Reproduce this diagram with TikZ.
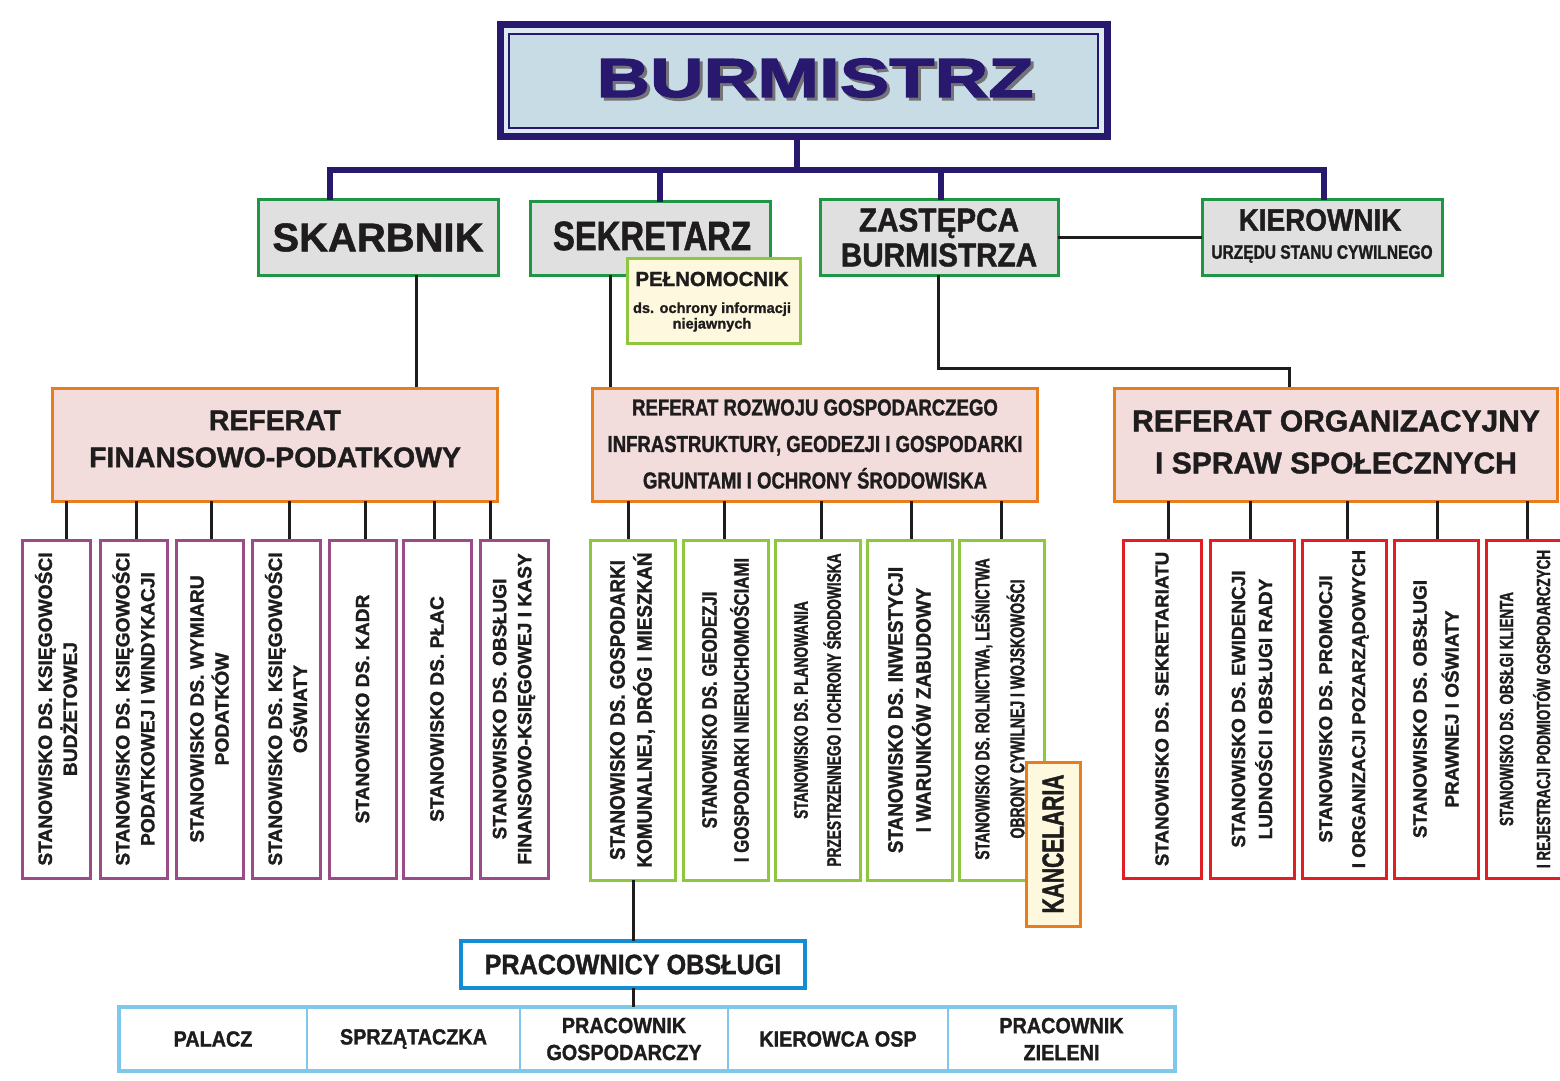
\documentclass[tikz,border=0pt]{standalone}
\usepackage{fontspec}
\setmainfont{Liberation Sans}[BoldFeatures={FakeBold=1.3}]
\newfontfamily\fsA{Liberation Sans}[FakeStretch=0.9, BoldFeatures={FakeBold=1.3}]
\newfontfamily\fsB{Liberation Sans}[FakeStretch=0.8, BoldFeatures={FakeBold=1.3}]
\newfontfamily\fsC{Liberation Sans}[FakeStretch=0.7, BoldFeatures={FakeBold=1.3}]
\newfontfamily\fsW{Liberation Sans}[FakeStretch=1.35, BoldFeatures={FakeBold=2.2}]
\usetikzlibrary{calc}
\newcommand\fz[2]{\fontsize{#1}{#2}\selectfont}
\newcommand\bx[7]{\node[#1, minimum width={(#5-#3)*0.5pt}, minimum height={(#6-#4)*0.5pt}] (#2) at ({(#3+#5)/2},{(#4+#6)/2}) {#7};}
\definecolor{ink}{RGB}{30,28,29}
\definecolor{navy}{RGB}{40,24,110}
\definecolor{burfill}{RGB}{200,220,230}
\definecolor{burlight}{RGB}{222,234,242}
\definecolor{dkgreen}{RGB}{30,150,70}
\definecolor{boxgrey}{RGB}{224,224,224}
\definecolor{ltgreen}{RGB}{141,198,63}
\definecolor{cream}{RGB}{253,248,222}
\definecolor{orange1}{RGB}{232,125,30}
\definecolor{pink1}{RGB}{242,221,220}
\definecolor{purple1}{RGB}{155,75,135}
\definecolor{red1}{RGB}{225,30,35}
\definecolor{blue1}{RGB}{20,140,210}
\definecolor{ltblue}{RGB}{125,200,235}
\definecolor{shade}{RGB}{115,115,120}
\tikzset{
  box/.style={rectangle, inner sep=0pt, outer sep=0pt, line width=1.5pt, text=ink, font=\bfseries},
  topbox/.style={box, draw=dkgreen, fill=boxgrey},
  refbox/.style={box, draw=orange1, fill=pink1, align=center},
  pbox/.style={box, draw=purple1, fill=white},
  gbox/.style={box, draw=ltgreen, fill=white},
  rbox/.style={box, draw=red1, fill=white},
  kbox/.style={box, draw=orange1, fill=cream},
  pelbox/.style={box, draw=ltgreen, fill=cream},
  obsbox/.style={box, draw=blue1, fill=white, line width=1.8pt},
  cellbox/.style={box, draw=ltblue, line width=0.8pt, fill=white, align=center, font={\fsA\bfseries\fz{11}{13.5}}},
  tabframe/.style={box, draw=ltblue, line width=2.2pt},
  burbox/.style={box, draw=navy, line width=3.5pt, fill=burlight},
  txt/.style={inner sep=0pt, outer sep=0pt, text=ink, align=center},
  vtext/.style={txt, rotate=90},
  conn/.style={line width=1.5pt, draw=ink},
  navyconn/.style={line width=3pt, draw=navy, line join=miter},
}
\begin{document}
\begin{tikzpicture}[x=0.5pt, y=-0.5pt]
\useasboundingbox[fill=white] (0,0) rectangle (1560,1081);

% ---------- BURMISTRZ ----------
\bx{burbox}{bur}{500}{25}{1107}{137}{}
\draw[navy, line width=0.8pt, fill=burfill] ($(bur.north west)+(9,9)$) rectangle ($(bur.south east)+(-9,-9)$);
\node[txt, text=shade, font={\fsW\bfseries\fz{27.5}{30}}] (bursh) at (818,81) {BURMISTRZ};
\node[txt, text=navy, font={\fsW\bfseries\fz{27.5}{30}}] (burt) at (815,78) {BURMISTRZ};

% ---------- top row ----------
\bx{topbox}{skar}{258}{200}{498}{275}{}
\node[txt, font={\bfseries\fz{20}{24}}] (skart) at (skar) {SKARBNIK};
\bx{topbox}{sek}{530}{202}{770}{275}{}
\node[txt, font={\fsB\bfseries\fz{20.5}{24}}] (sekt) at (652,236) {SEKRETARZ};
\bx{topbox}{zas}{820}{200}{1058}{275}{}
\node[txt, font={\fsA\bfseries\fz{16.5}{17.5}}] (zast) at (zas) {ZASTĘPCA\\BURMISTRZA};
\bx{topbox}{kier}{1202}{200}{1442}{275}{}
\node[txt, font={\fsA\bfseries\fz{15.5}{18}}] (kiert1) at (1320,220) {KIEROWNIK};
\node[txt, font={\fsB\bfseries\fz{9.7}{12}}] (kiert2) at (1322,254) {URZĘDU STANU CYWILNEGO};

% navy tree
\draw[navyconn] (bur.south -| 797,0) -- (797,170);
\draw[navyconn] (skar.north -| 330,0) -- (330,170) -- (1324,170) -- (kier.north -| 1324,0);
\draw[navyconn] (sek.north -| 660,0) -- (660,170);
\draw[navyconn] (zas.north -| 941,0) -- (941,170);

% ---------- black connectors ----------
\draw[conn] (skar.south -| 416,0) -- (416,388) coordinate (finin);
\draw[conn] (sek.south -| 610,0) -- (610,388) coordinate (rozin);
\draw[conn] (zas.south -| 938,0) -- (938,368) -- (1289,368) -- (1289,388) coordinate (orgin);
\draw[conn] (zas.east) -- (kier.west);

% PELNOMOCNIK
\bx{pelbox}{pel}{627}{259}{800}{343}{}
\node[txt, font={\bfseries\fz{10.2}{12}}] (pelt1) at (712,279) {PEŁNOMOCNIK};
\node[txt, font={\bfseries\fz{7.3}{7.8}}] (pelt2) at (712,317) {ds. ochrony informacji\\niejawnych};

% ---------- referaty ----------
\bx{refbox}{fin}{52}{388}{497}{501}{}
\node[txt, font={\bfseries\fz{14.2}{18.5}}] (fint) at (275,439) {REFERAT\\FINANSOWO-PODATKOWY};
\bx{refbox}{roz}{592}{388}{1037}{501}{}
\node[txt, font={\fsB\bfseries\fz{11.6}{18.25}}] (rozt) at (815,444) {REFERAT ROZWOJU GOSPODARCZEGO\\INFRASTRUKTURY, GEODEZJI I GOSPODARKI\\GRUNTAMI I OCHRONY ŚRODOWISKA};
\bx{refbox}{org}{1114}{388}{1557}{501}{}
\node[txt, font={\bfseries\fz{15}{21}}] (orgt) at (1336,442) {REFERAT ORGANIZACYJNY\\I SPRAW SPOŁECZNYCH};

% ---------- purple column ----------
\foreach \x in {66,136,211,289,365,434,490} \draw[conn] (fin.south -| \x,0) -- (\x,540);
\bx{pbox}{p1}{22}{540}{90}{878}{}
\bx{pbox}{p2}{100}{540}{167}{878}{}
\bx{pbox}{p3}{176}{540}{243}{878}{}
\bx{pbox}{p4}{252}{540}{320}{878}{}
\bx{pbox}{p5}{329}{540}{396}{878}{}
\bx{pbox}{p6}{403}{540}{471}{878}{}
\bx{pbox}{p7}{480}{540}{548}{878}{}
\tikzset{pfont/.style={font={\bfseries\fz{9.6}{12.5}}}}
\node[vtext, pfont] (p1t) at (p1) {STANOWISKO DS. KSIĘGOWOŚCI\\BUDŻETOWEJ};
\node[vtext, pfont] (p2t) at (p2) {STANOWISKO DS. KSIĘGOWOŚCI\\PODATKOWEJ I WINDYKACJI};
\node[vtext, pfont] (p3t) at (p3) {STANOWISKO DS. WYMIARU\\PODATKÓW};
\node[vtext, pfont] (p4t) at (p4) {STANOWISKO DS. KSIĘGOWOŚCI\\OŚWIATY};
\node[vtext, pfont] (p5t) at (p5) {STANOWISKO DS. KADR};
\node[vtext, pfont] (p6t) at (p6) {STANOWISKO DS. PŁAC};
\node[vtext, pfont] (p7t) at (p7) {STANOWISKO DS. OBSŁUGI\\FINANSOWO-KSIĘGOWEJ I KASY};

% ---------- green column ----------
\foreach \x in {628,724,821,911,1001} \draw[conn] (roz.south -| \x,0) -- (\x,540);
\bx{gbox}{g1}{590}{540}{675}{880}{}
\bx{gbox}{g2}{683}{540}{768}{880}{}
\bx{gbox}{g3}{775}{540}{860}{880}{}
\bx{gbox}{g4}{867}{540}{952}{880}{}
\bx{gbox}{g5}{959}{540}{1044}{880}{}
\node[vtext, font={\fsA\bfseries\fz{10.5}{13.5}}] (g1t) at (g1) {STANOWISKO DS. GOSPODARKI\\KOMUNALNEJ, DRÓG I MIESZKAŃ};
\node[vtext, font={\fsB\bfseries\fz{10.5}{16}}] (g2t) at (g2) {STANOWISKO DS. GEODEZJI\\I GOSPODARKI NIERUCHOMOŚCIAMI};
\node[vtext, font={\fsC\bfseries\fz{9.8}{16.5}}] (g3t) at (g3) {STANOWISKO DS. PLANOWANIA\\PRZESTRZENNEGO I OCHRONY ŚRODOWISKA};
\node[vtext, font={\fsA\bfseries\fz{10.5}{14}}] (g4t) at (g4) {STANOWISKO DS. INWESTYCJI\\I WARUNKÓW ZABUDOWY};
\node[vtext, font={\fsC\bfseries\fz{10}{17.5}}] (g5t) at (998,709) {STANOWISKO DS. ROLNICTWA, LEŚNICTWA\\OBRONY CYWILNEJ I WOJSKOWOŚCI};

% KANCELARIA
\bx{kbox}{kanc}{1026}{762}{1080}{926}{}
\node[vtext, font={\fsC\bfseries\fz{15}{18}}] (kanct) at (kanc) {KANCELARIA};

% ---------- red column ----------
\foreach \x in {1168,1250,1347,1437,1527} \draw[conn] (org.south -| \x,0) -- (\x,540);
\bx{rbox}{r1}{1123}{540}{1201}{878}{}
\bx{rbox}{r2}{1210}{540}{1294}{878}{}
\bx{rbox}{r3}{1302}{540}{1386}{878}{}
\bx{rbox}{r4}{1394}{540}{1478}{878}{}
\bx{rbox}{r5}{1486}{540}{1566}{878}{}
\node[vtext, font={\bfseries\fz{9.4}{12}}] (r1t) at (r1) {STANOWISKO DS. SEKRETARIATU};
\node[vtext, font={\bfseries\fz{9.5}{13.5}}] (r2t) at (r2) {STANOWISKO DS. EWIDENCJI\\LUDNOŚCI I OBSŁUGI RADY};
\node[vtext, font={\bfseries\fz{9.3}{16.5}}] (r3t) at (r3) {STANOWISKO DS. PROMOCJI\\I ORGANIZACJI POZARZĄDOWYCH};
\node[vtext, font={\bfseries\fz{9.5}{16}}] (r4t) at (r4) {STANOWISKO DS. OBSŁUGI\\PRAWNEJ I OŚWIATY};
\node[vtext, font={\fsC\bfseries\fz{9.6}{18.5}}] (r5t) at (1525,709) {STANOWISKO DS. OBSŁGI KLIENTA\\I REJESTRACJI PODMIOTÓW GOSPODARCZYCH};

% ---------- pracownicy obslugi ----------
\bx{obsbox}{pob}{461}{941}{805}{988}{}
\node[txt, font={\fsA\bfseries\fz{14}{16}}] (pobt) at (pob) {PRACOWNICY OBSŁUGI};
\draw[conn] (g1.south -| pob.north) -- (pob.north);

\bx{cellbox}{c1}{119}{1007}{307}{1071}{PALACZ}
\bx{cellbox}{c2}{307}{1007}{520}{1071}{SPRZĄTACZKA}
\bx{cellbox}{c3}{520}{1007}{728}{1071}{PRACOWNIK\\GOSPODARCZY}
\bx{cellbox}{c4}{728}{1007}{948}{1071}{KIEROWCA OSP}
\bx{cellbox}{c5}{948}{1007}{1175}{1071}{PRACOWNIK\\ZIELENI}
\bx{tabframe}{tab}{119}{1007}{1175}{1071}{}
\draw[conn] (pob.south) -- (tab.north -| pob.south);
\end{tikzpicture}
\end{document}
